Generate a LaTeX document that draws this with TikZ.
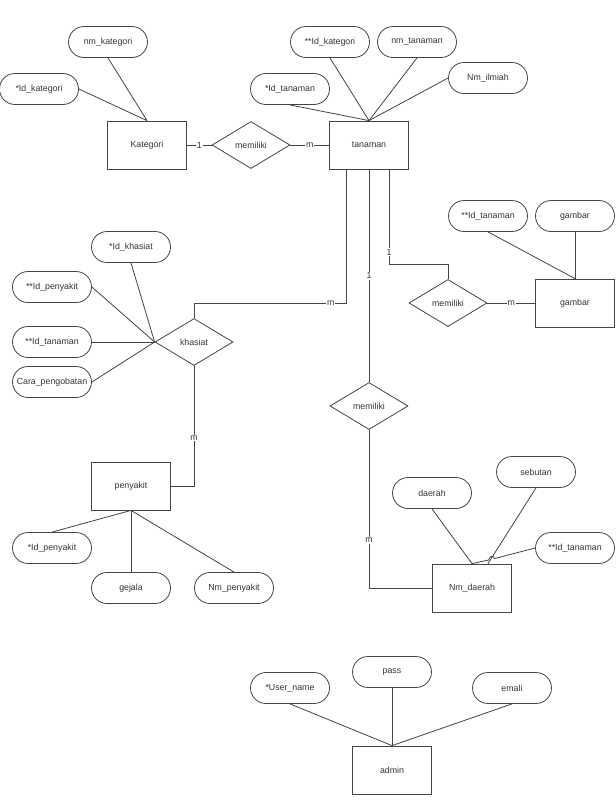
\documentclass[tikz,border=0pt]{standalone}
\usepackage{fontspec}
\setmainfont{Liberation Sans}
\usetikzlibrary{shapes.geometric}
\definecolor{ln}{HTML}{444444}
\definecolor{tx}{HTML}{333333}
\begin{document}
\begin{tikzpicture}[x=1pt,y=-1pt,
  every node/.style={font=\fontsize{8.8}{10}\selectfont, text=tx},
  every path/.style={draw=ln, line width=0.8pt},
  entity/.style={draw=ln, line width=0.8pt, rectangle, minimum width=79pt, minimum height=48pt, inner sep=0pt},
  attr/.style={draw=ln, line width=0.8pt, rounded corners=15.5pt, minimum width=79pt, minimum height=31pt, inner sep=0pt},
  rel/.style={draw=ln, line width=0.8pt, diamond, aspect=1.66, minimum width=78pt, minimum height=47pt, inner sep=0pt},
  card/.style={fill=white, inner sep=1pt, font=\fontsize{8.8}{10}\selectfont}
]
\useasboundingbox[fill=white, draw=none] (0,0) rectangle (616,804);

% entities
\node[entity] (kat) at (147,145) {Kategori};
\node[entity] (tan) at (369,145) {tanaman};
\node[entity] (gbr) at (575,303) {gambar};
\node[entity] (peny) at (131,486) {penyakit};
\node[entity] (nmd) at (472,588) {Nm\_daerah};
\node[entity] (adm) at (392,770) {admin};

% relationships
\node[rel] (mem1) at (251,145) {memiliki};
\node[rel] (mem2) at (448,303) {memiliki};
\node[rel] (khs) at (194,342) {khasiat};
\node[rel] (mem3) at (369,406) {memiliki};

% attributes of Kategori
\node[attr] (nmkat) at (108,42) {nm\_kategori};
\node[attr] (idkat) at (39,89) {*Id\_kategori};
% attributes of tanaman
\node[attr] (idkat2) at (330,42) {**Id\_kategori};
\node[attr] (nmtan) at (417,42) {nm\_tanaman};
\node[attr] (nmil) at (488,78) {Nm\_ilmiah};
\node[attr] (idtan) at (290,89) {*Id\_tanaman};
% attributes of gambar
\node[attr] (idtan2) at (488,216) {**Id\_tanaman};
\node[attr] (gbratt) at (575,216) {gambar};
% attributes of khasiat
\node[attr] (idkh) at (131,247) {*Id\_khasiat};
\node[attr] (idpen) at (52,287) {**Id\_penyakit};
\node[attr] (idtan3) at (52,342) {**Id\_tanaman};
\node[attr] (cara) at (52,382) {Cara\_pengobatan};
% attributes of penyakit
\node[attr] (idpen2) at (52,548) {*Id\_penyakit};
\node[attr] (gej) at (131,588) {gejala};
\node[attr] (nmpen) at (234,588) {Nm\_penyakit};
% attributes of Nm_daerah
\node[attr] (daer) at (432,493) {daerah};
\node[attr] (sebut) at (536,472) {sebutan};
\node[attr] (idtan4) at (575,548) {**Id\_tanaman};
% attributes of admin
\node[attr] (user) at (290,688) {*User\_name};
\node[attr] (pass) at (392,672) {pass};
\node[attr] (emali) at (512,688) {emali};

% attribute lines
\draw (nmkat.south) -- (kat.north);
\draw (idkat.east) -- (kat.north);
\draw (idtan.south) -- (tan.north);
\draw (idkat2.south) -- (tan.north);
\draw (nmtan.south) -- (tan.north);
\draw (nmil.west) -- (tan.north);
\draw (idtan2.south) -- (gbr.north);
\draw (gbratt.south) -- (gbr.north);
\draw (idkh.south) -- (khs.west);
\draw (idpen.east) -- (khs.west);
\draw (idtan3.east) -- (khs.west);
\draw (cara.east) -- (khs.west);
\draw (peny.south) -- (idpen2.north);
\draw (peny.south) -- (gej.north);
\draw (peny.south) -- (nmpen.north);
\draw (daer.south) -- (nmd.north);
\draw (sebut.south) -- ([xshift=16pt]nmd.north);
\coordinate (hopA) at (494.4,558.6);
\coordinate (hopB) at (488.6,560.0);
\draw (idtan4.west) -- (hopA) .. controls +(-1,-4) and +(1,-4) .. (hopB) -- (nmd.north);
\draw (user.south) -- (adm.north);
\draw (pass.south) -- (adm.north);
\draw (emali.south) -- (adm.north);

% relationship lines
\draw (kat.east) -- node[card] {1} (mem1.west);
\draw (mem1.east) -- node[card] {m} (tan.west);
\draw ([xshift=20pt]tan.south) -- node[card, pos=0.87] {1} ++(0,95) -| (mem2.north);
\draw (mem2.east) -- node[card] {m} (gbr.west);
\draw ([xshift=-23pt]tan.south) -- ++(0,134) -| node[card, pos=0.05] {m} (khs.north);
\draw (tan.south) -- node[card] {1} (mem3.north);
\draw (mem3.south) |- node[card, pos=0.35] {m} (nmd.west);
\draw (khs.south) |- node[card, pos=0.3] {m} (peny.east);
\end{tikzpicture}
\end{document}
